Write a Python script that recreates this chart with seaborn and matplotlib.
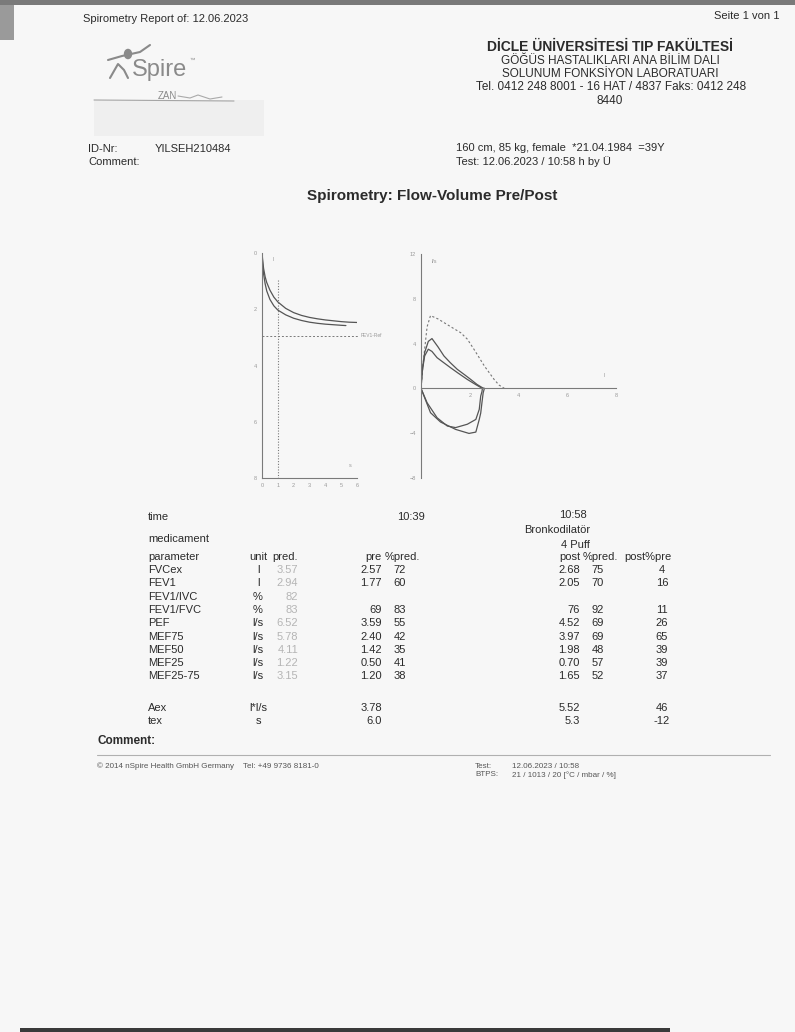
import numpy as np
import pandas as pd
import matplotlib
matplotlib.use('Agg')
import matplotlib.pyplot as plt
import seaborn as sns
from matplotlib.patches import Rectangle
from matplotlib.lines import Line2D

# ================= data =================
# volume-time curves (s, l)
pre_t = [0, 0.05, 0.1, 0.2, 0.3, 0.5, 0.75, 1.0, 1.5, 2.0, 2.5, 3.0, 3.5, 4.0, 4.5, 5.0, 5.5, 6.0]
pre_v = [0, 0.30, 0.55, 0.85, 1.05, 1.32, 1.57, 1.74, 1.97, 2.12, 2.22, 2.29, 2.34, 2.38, 2.41, 2.44, 2.46, 2.47]
post_t = [0, 0.05, 0.1, 0.2, 0.3, 0.5, 0.75, 1.0, 1.5, 2.0, 2.5, 3.0, 3.5, 4.0, 4.5, 5.0, 5.3]
post_v = [0, 0.45, 0.75, 1.10, 1.35, 1.65, 1.88, 2.03, 2.20, 2.32, 2.40, 2.46, 2.50, 2.53, 2.55, 2.57, 2.58]

# flow-volume curves (l, l/s)
pred_vol = [0, 0.1, 0.25, 0.39, 0.7, 1.0, 1.3, 1.63, 1.9, 2.2, 2.6, 3.0, 3.2, 3.42]
pred_flow = [0, 2.5, 5.5, 6.5, 6.2, 5.8, 5.4, 4.97, 4.4, 3.4, 2.0, 0.8, 0.3, 0]
pre_ex_vol = [0, 0.05, 0.15, 0.3, 0.45, 0.66, 0.9, 1.21, 1.5, 1.9, 2.2, 2.45, 2.52]
pre_ex_flow = [0, 1.5, 2.9, 3.5, 3.3, 2.74, 2.35, 1.85, 1.4, 0.8, 0.4, 0.08, 0]
post_ex_vol = [0, 0.05, 0.15, 0.3, 0.45, 0.7, 0.94, 1.2, 1.49, 1.8, 2.04, 2.3, 2.52, 2.6]
post_ex_flow = [0, 1.6, 3.2, 4.2, 4.45, 3.7, 2.9, 2.3, 1.7, 1.2, 0.8, 0.35, 0.06, 0]
pre_in_vol = [2.52, 2.5, 2.45, 2.39, 2.25, 1.9, 1.42, 1.08, 0.66, 0.25, 0]
pre_in_flow = [0, -0.3, -0.68, -1.87, -2.77, -3.2, -3.5, -3.36, -2.62, -1.28, 0]
post_in_vol = [2.6, 2.55, 2.5, 2.45, 2.39, 2.25, 1.97, 1.42, 0.8, 0.39, 0]
post_in_flow = [0, -0.4, -1.28, -2.2, -2.77, -3.9, -4.02, -3.66, -3.0, -2.17, 0]

fev1_ref = 2.94

# table
params = ['FVCex', 'FEV1', 'FEV1/IVC', 'FEV1/FVC', 'PEF', 'MEF75', 'MEF50', 'MEF25', 'MEF25-75']
units = ['l', 'l', '%', '%', 'l/s', 'l/s', 'l/s', 'l/s', 'l/s']
pred = ['3.57', '2.94', '82', '83', '6.52', '5.78', '4.11', '1.22', '3.15']
pre = ['2.57', '1.77', '', '69', '3.59', '2.40', '1.42', '0.50', '1.20']
pre_pct = ['72', '60', '', '83', '55', '42', '35', '41', '38']
post = ['2.68', '2.05', '', '76', '4.52', '3.97', '1.98', '0.70', '1.65']
post_pct = ['75', '70', '', '92', '69', '69', '48', '57', '52']
post_pre = ['4', '16', '', '11', '26', '65', '39', '39', '37']
extra_params = ['Aex', 'tex']
extra_units = ['l*l/s', 's']
extra_pre = ['3.78', '6.0']
extra_post = ['5.52', '5.3']
extra_change = ['46', '-12']

# ================= setup =================
sns.set_style("white")
plt.rcParams['font.family'] = ['Liberation Sans', 'DejaVu Sans']

W, H = 795, 1032
fig = plt.figure(figsize=(7.95, 10.32), dpi=100)
fig.patch.set_facecolor('#f7f7f7')
INK = '#2b2b2b'
GRAY = '#8a8a8a'


def txt(x, y, s, size=8, **kw):
    kw.setdefault('va', 'center')
    kw.setdefault('color', INK)
    fig.text(x / W, 1 - y / H, s, fontsize=size, **kw)


def fline(xs, ys, **kw):
    fig.add_artist(Line2D([x / W for x in xs], [1 - y / H for y in ys], **kw))


# page edges (photo)
fig.add_artist(Rectangle((0, 1 - 5 / H), 1, 5 / H, transform=fig.transFigure, color='#7a7a7a', lw=0))
fig.add_artist(Rectangle((0, 1 - 40 / H), 14 / W, 35 / H, transform=fig.transFigure, color='#9a9a9a', lw=0))
fig.add_artist(Rectangle((20 / W, 0), 650 / W, 4 / H, transform=fig.transFigure, color='#3a3a3a', lw=0))

# ================= header =================
txt(83, 19, 'Spirometry Report of: 12.06.2023', 8)
txt(780, 16, 'Seite 1 von 1', 8, ha='right')
txt(610, 47, 'DİCLE ÜNİVERSİTESİ TIP FAKÜLTESİ', 10, ha='center', weight='bold')
txt(610, 61, 'GÖĞÜS HASTALIKLARI ANA BİLİM DALI', 8.5, ha='center')
txt(610, 74, 'SOLUNUM FONKSİYON LABORATUARI', 8.5, ha='center')
txt(611, 87, 'Tel. 0412 248 8001 - 16 HAT / 4837 Faks: 0412 248', 8.5, ha='center')
txt(610, 101, '8440', 8.5, ha='center')

# logo
txt(132, 70, 'Spire', 17, color=GRAY)
txt(190, 60, '™', 4, color=GRAY)
fline([108, 122, 140, 150], [60, 56, 52, 45], color=GRAY, lw=1.5)
fig.add_artist(plt.Circle((128 / W, 1 - 54 / H), 3.5 / W, transform=fig.transFigure, color=GRAY))
fline([110, 118, 124, 128], [78, 64, 70, 78], color=GRAY, lw=1.5)
txt(158, 96, 'ZAN', 7, color=GRAY)
fline([178, 190, 198, 210, 222], [96, 98, 95, 99, 97], color='#aaaaaa', lw=0.8)
fig.add_artist(Rectangle((94 / W, 1 - 136 / H), 170 / W, 36 / H, transform=fig.transFigure,
                         color='#efefef', lw=0))
fline([94, 234], [100, 101], color='#a5a5a5', lw=0.8)

txt(88, 149, 'ID-Nr:', 8)
txt(155, 149, 'YILSEH210484', 8)
txt(88, 162, 'Comment:', 8)
txt(456, 148, '160 cm, 85 kg, female  *21.04.1984  =39Y', 8)
txt(456, 162, 'Test: 12.06.2023 / 10:58 h by Ü', 8)

txt(432, 196, 'Spirometry: Flow-Volume Pre/Post', 11, ha='center', weight='bold')

# ================= chart 1: volume-time =================
LINE = '#555555'
AX = '#7a7a7a'
ax1 = fig.add_axes([262 / W, 1 - 478 / H, 95 / W, 225 / H])
ax1.set_facecolor('none')
sns.lineplot(x=pre_t, y=pre_v, ax=ax1, color=LINE, lw=0.9, sort=False, estimator=None)
sns.lineplot(x=post_t, y=post_v, ax=ax1, color=LINE, lw=0.9, sort=False, estimator=None)
ax1.plot([0, 6.1], [fev1_ref, fev1_ref], color=AX, lw=0.7, ls=(0, (2, 2)), clip_on=False)
ax1.plot([1, 1], [0.95, 8], color=AX, lw=0.8, ls=(0, (1, 1.5)))
ax1.set_xlim(0, 6)
ax1.set_ylim(8, 0)
ax1.set_xticks(range(7))
ax1.set_yticks(range(9))
ax1.set_yticklabels(['0', '', '2', '', '4', '', '6', '', '8'])
ax1.text(6.2, fev1_ref, 'FEV1-Ref', fontsize=3.5, color='#999999', va='center')
ax1.text(0.7, 0.3, 'l', fontsize=4, color='#999999')
ax1.text(5.5, 7.6, 's', fontsize=4, color='#999999')

# ================= chart 2: flow-volume =================
ax2 = fig.add_axes([421 / W, 1 - 478 / H, 195 / W, 224 / H])
ax2.set_facecolor('none')
ax2.plot(pred_vol, pred_flow, color='#777777', lw=0.8, ls=(0, (2, 2)))
for xs, ys in [(pre_ex_vol, pre_ex_flow), (post_ex_vol, post_ex_flow),
               (pre_in_vol, pre_in_flow), (post_in_vol, post_in_flow)]:
    sns.lineplot(x=xs, y=ys, ax=ax2, color=LINE, lw=0.9, sort=False, estimator=None)
ax2.set_xlim(0, 8)
ax2.set_ylim(-8, 12)
ax2.spines['bottom'].set_position(('data', 0))
ax2.set_xticks([2, 4, 6, 8])
ax2.set_xticks([1, 3, 5, 7], minor=True)
ax2.set_yticks([-8, -4, 0, 4, 8, 12])
ax2.text(0.45, 11.2, 'l/s', fontsize=4, color='#999999')
ax2.text(7.5, 1.0, 'l', fontsize=4, color='#999999')

for ax in (ax1, ax2):
    for s in ('top', 'right'):
        ax.spines[s].set_visible(False)
    for s in ('left', 'bottom'):
        ax.spines[s].set_color(AX)
        ax.spines[s].set_linewidth(0.8)
    ax.tick_params(which='both', direction='out', length=2, width=0.6, color=AX,
                   labelsize=4, labelcolor='#999999', pad=1.5)
    ax.set_xlabel('')
    ax.set_ylabel('')

# ================= table =================
COL_PAR, COL_UNIT, COL_PRED = 148, 258, 298
COL_PRE, COL_PREP, COL_POST, COL_POSTP, COL_CHG = 382, 400, 580, 598, 662
PRED_C = '#b5b5b5'

txt(148, 517, 'time', 8)
txt(425, 517, '10:39', 8, ha='right')
txt(587, 515, '10:58', 8, ha='right')
txt(148, 539, 'medicament', 8)
txt(590, 530, 'Bronkodilatör', 8, ha='right')
txt(590, 545, '4 Puff', 8, ha='right')

hy = 557
txt(COL_PAR, hy, 'parameter', 8)
txt(COL_UNIT, hy, 'unit', 8, ha='center')
txt(COL_PRED, hy, 'pred.', 8, ha='right')
txt(COL_PRE, hy, 'pre', 8, ha='right')
txt(COL_PREP + 2, hy, '%pred.', 8, ha='center')
txt(COL_POST, hy, 'post', 8, ha='right')
txt(COL_POSTP + 2, hy, '%pred.', 8, ha='center')
txt(COL_CHG - 14, hy, 'post%pre', 8, ha='center')

for i, p in enumerate(params):
    y = 570 + i * 13.3
    txt(COL_PAR, y, p, 8)
    txt(COL_UNIT, y, units[i], 8, ha='center')
    txt(COL_PRED, y, pred[i], 8, ha='right', color=PRED_C)
    txt(COL_PRE, y, pre[i], 8, ha='right')
    txt(COL_PREP, y, pre_pct[i], 8, ha='center')
    txt(COL_POST, y, post[i], 8, ha='right')
    txt(COL_POSTP, y, post_pct[i], 8, ha='center')
    txt(COL_CHG, y, post_pre[i], 8, ha='center')

for i, p in enumerate(extra_params):
    y = 708 + i * 13.3
    txt(COL_PAR, y, p, 8)
    txt(COL_UNIT, y, extra_units[i], 8, ha='center')
    txt(COL_PRE, y, extra_pre[i], 8, ha='right')
    txt(COL_POST, y, extra_post[i], 8, ha='right')
    txt(COL_CHG, y, extra_change[i], 8, ha='center')

# ================= footer =================
txt(97, 741, 'Comment:', 8.5, weight='bold')
fline([97, 770], [755, 755], color='#b0b0b0', lw=0.8)
txt(97, 766, '© 2014 nSpire Health GmbH Germany    Tel: +49 9736 8181-0', 5.8, color='#555555')
txt(475, 766, 'Test:', 5.8, color='#555555')
txt(475, 775, 'BTPS:', 5.8, color='#555555')
txt(512, 766, '12.06.2023 / 10:58', 5.8, color='#555555')
txt(512, 775, '21 / 1013 / 20 [°C / mbar / %]', 5.8, color='#555555')

fig.savefig('out.png', dpi=100, facecolor=fig.get_facecolor())
